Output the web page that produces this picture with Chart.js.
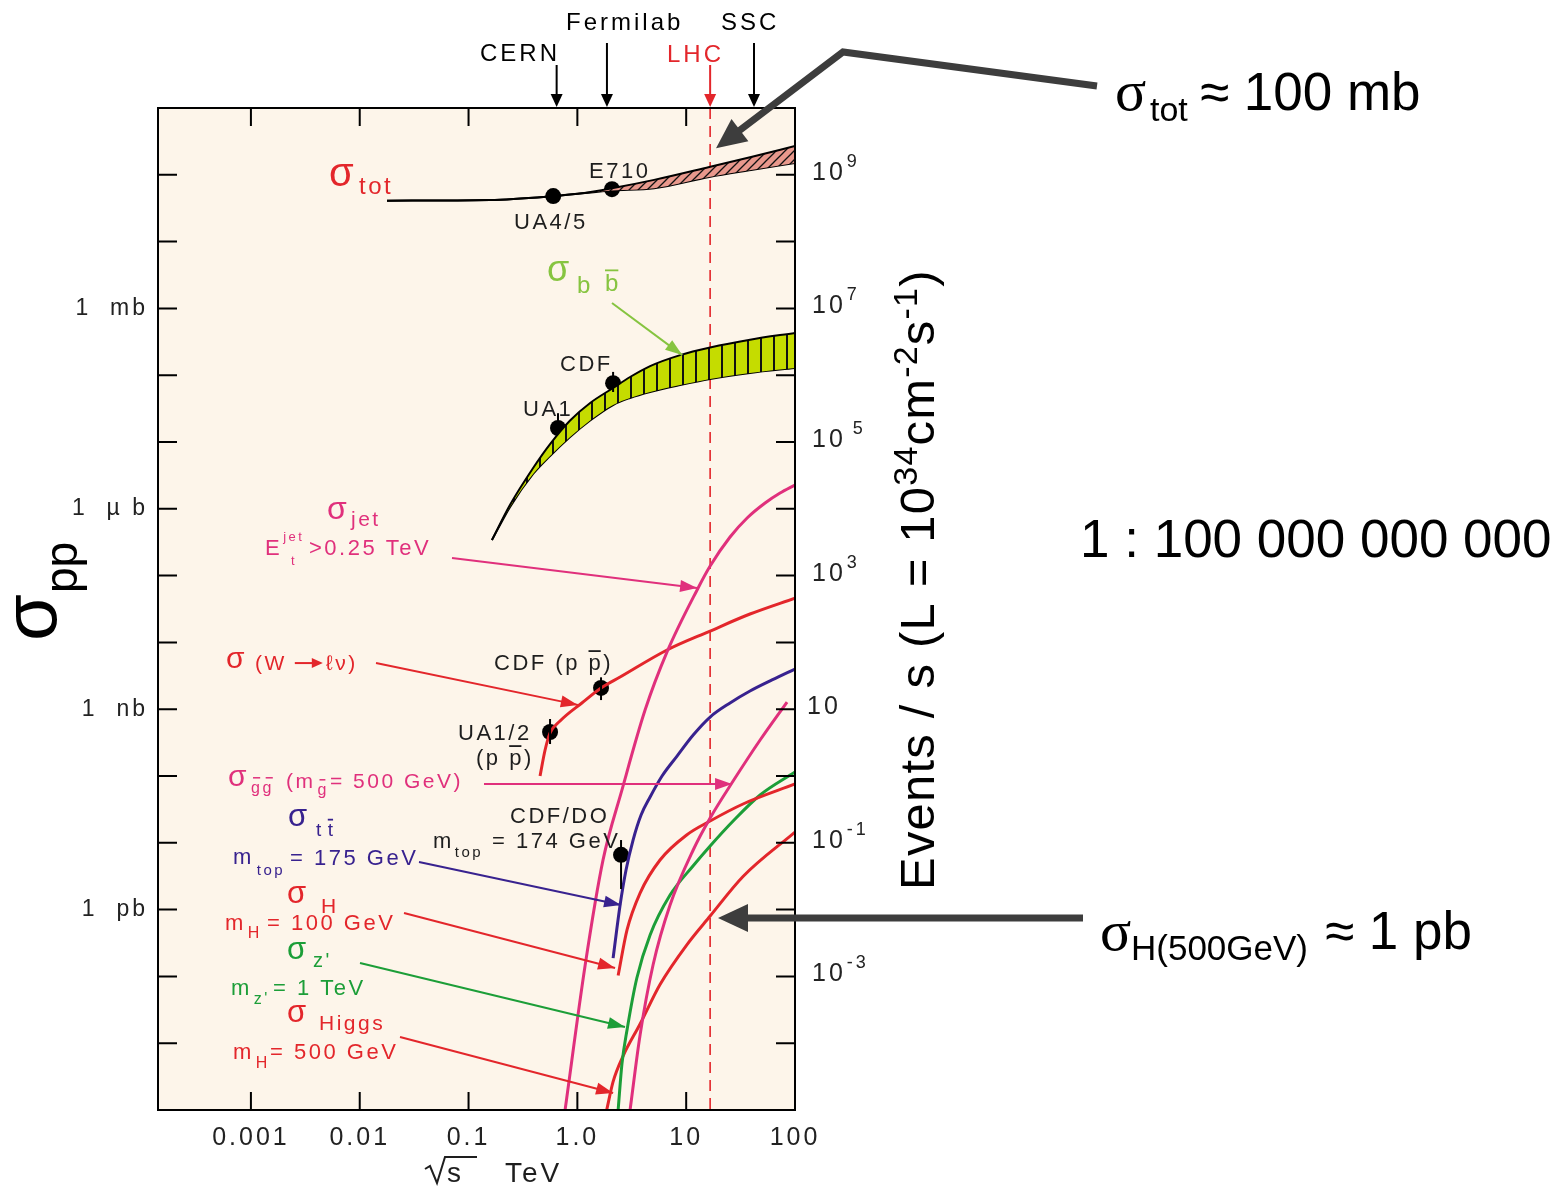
<!DOCTYPE html>
<html>
<head>
<meta charset="utf-8">
<title>Proton-proton cross sections</title>
<script src="https://cdn.jsdelivr.net/npm/chart.js@4.4.1/dist/chart.umd.min.js"></script>
<style>
  html, body { margin: 0; padding: 0; background: #fff; }
  canvas { display: block; }
</style>
</head>
<body>
<canvas id="xsec" width="1559" height="1186"></canvas>
<script>
// sqrt(s) in TeV, cross sections in pb
const totX = [0.0178, 0.157, 0.60, 1.01, 2.08, 5.07, 16.3, 39.5, 100];
const totHigh = [4.1e10, 4.2e10, 4.8e10, 5.2e10, 6.3e10, 8.4e10, 1.31e11, 1.85e11, 2.7e11];
const totLow = [4.1e10, 4.2e10, 4.8e10, 5.2e10, 5.8e10, 6.3e10, 9.3e10, 1.18e11, 1.5e11];

const bbX = [0.164, 0.240, 0.392, 0.561, 0.857, 1.31, 2.13, 3.05, 4.66, 8.8, 16.6, 38.6, 100];
const bbHigh = [3.4e5, 1.14e6, 4.08e6, 9.3e6, 2.1e7, 3.84e7, 6.43e7, 9.4e7, 1.37e8, 2.0e8, 2.6e8, 3.4e8, 4.3e8];
const bbLow = [3.4e5, 1.06e6, 3.32e6, 6.17e6, 1.19e7, 2.1e7, 3.58e7, 4.56e7, 5.61e7, 7.13e7, 8.8e7, 1.08e8, 1.28e8];

const jetX = [0.771, 1.18, 1.72, 2.57, 4.19, 6.67, 12.6, 16.6, 25.3, 36.3, 53.1, 72.9, 100];
const jetY = [1e-3, 0.148, 5.5, 62, 970, 7.2e3, 6.1e4, 1.39e5, 3.78e5, 7.28e5, 1.22e6, 1.72e6, 2.27e6];

const wX = [0.454, 0.505, 0.561, 0.693, 1.10, 1.65, 2.47, 6.67, 16.6, 38.6, 100];
const wY = [100, 245, 440, 666, 1.24e3, 2.08e3, 3.03e3, 7.7e3, 1.48e4, 2.66e4, 4.6e4];

const ttX = [2.13, 2.47, 2.80, 3.25, 3.85, 4.66, 6.0, 8.24, 11.6, 16.6, 25.3, 38.6, 61.5, 100];
const ttY = [0.188, 1.17, 3.92, 11.0, 26.1, 48.5, 100, 199, 411, 764, 1.24e3, 1.87e3, 2.74e3, 4.0e3];

const gluinoX = [3.05, 3.77, 4.96, 7.11, 11.6, 16.6, 27.0, 47.8, 84.5];
const gluinoY = [1e-3, 0.0133, 0.148, 1.17, 7.8, 23.5, 84, 346, 1.28e3];

const h100X = [2.37, 2.86, 3.77, 5.75, 10.1, 16.6, 33.3, 100];
const h100Y = [0.103, 0.496, 1.77, 5.53, 13.1, 21.2, 38.1, 75.9];

const zpX = [2.37, 2.57, 2.86, 3.52, 4.66, 7.11, 11.6, 16.6, 27.0, 47.8, 100];
const zpY = [1e-3, 0.00496, 0.0158, 0.0946, 0.417, 1.65, 4.53, 8.96, 21.2, 52, 115];

const h500X = [1.86, 2.13, 2.63, 3.77, 5.75, 10.1, 16.6, 33.3, 100];
const h500Y = [1e-3, 0.00266, 0.00643, 0.0194, 0.0757, 0.295, 0.80, 3.13, 14.5];

// measured points: UA4/5, E710, UA1, CDF (bb), CDF (W), UA1/2, CDF/D0 (top)
const markX = [0.60, 2.08, 0.664, 2.13, 1.65, 0.561, 2.52];
const markY = [4.8e10, 6.1e10, 1.62e7, 7.6e7, 2.08e3, 456, 6.6];
const markLow = [null, null, 1.36e7, 5.6e7, 1.37e3, 301, 2.03];
const markHigh = [null, null, 2.7e7, 1.12e8, 3.0e3, 713, 11.0];

const accNames = ['CERN', 'Fermilab', 'LHC', 'SSC'];
const accTeV = [0.645, 1.87, 16.6, 42];

const xTickVals = [0.001, 0.01, 0.1, 1, 10, 100];
const xTickText = ['0.001', '0.01', '0.1', '1.0', '10', '100'];
const yTickVals = [1, 1e3, 1e6, 1e9];
const yTickText = ['1  pb', '1  nb', '1  \u00b5 b', '1  mb'];
const rateTickVals = [1e9, 1e7, 1e5, 1e3, 10, 0.1, 1e-3];
const rateTickExp = ['9', '7', '5', '3', '', '-1', '-3'];

// where the label arrows land (TeV, pb)
const pointerTeV = [9.2, 12.6, 1.01, 26.4, 2.52, 2.22, 2.74, 2.13];
const pointerPb = [2.0e8, 6.5e4, 1.16e3, 76, 1.17, 0.134, 0.0175, 0.0018];
const bigTipTeV = [18.8, 19.6];
const bigTipPb = [2.5e11, 0.75];

const SANS = '"Liberation Sans", Arial, Helvetica, sans-serif';
const SERIF = '"Liberation Serif", "Times New Roman", serif';
const RED = '#e3262b', PINK = '#e0307c', BLUE = '#38228f', GREEN = '#1c9e38', LIME = '#86c440', INK = '#1e1e1e';

const canvas = document.getElementById('xsec');
const mainCtx = canvas.getContext('2d');

function makePattern(w, h, bg, draw) {
    const c = document.createElement('canvas');
    c.width = w; c.height = h;
    const g = c.getContext('2d');
    g.fillStyle = bg;
    g.fillRect(0, 0, w, h);
    draw(g);
    return mainCtx.createPattern(c, 'repeat');
}

const totHatch = makePattern(9, 9, '#e8988c', g => {
    g.strokeStyle = '#111'; g.lineWidth = 1.3;
    g.beginPath();
    g.moveTo(-1, 10); g.lineTo(10, -1);
    g.moveTo(-1, 1); g.lineTo(1, -1);
    g.moveTo(8, 10); g.lineTo(10, 8);
    g.stroke();
});
const bbHatch = makePattern(13, 13, '#c5dc00', g => {
    g.fillStyle = '#111';
    g.fillRect(6, 0, 2, 13);
});

const pts = (xs, ys) => xs.map((x, i) => ({ x, y: ys[i] }));
const curve = (data, color, width, extra = {}) => ({
    data, borderColor: color, borderWidth: width, pointRadius: 0,
    showLine: true, fill: false, cubicInterpolationMode: 'monotone', ...extra
});

function arrowHead(ctx, x0, y0, x1, y1, len, half) {
    const a = Math.atan2(y1 - y0, x1 - x0);
    ctx.beginPath();
    ctx.moveTo(x1, y1);
    ctx.lineTo(x1 - len * Math.cos(a) + half * Math.sin(a), y1 - len * Math.sin(a) - half * Math.cos(a));
    ctx.lineTo(x1 - len * Math.cos(a) - half * Math.sin(a), y1 - len * Math.sin(a) + half * Math.cos(a));
    ctx.closePath();
    ctx.fill();
}

function drawParts(ctx, x, y, color, parts, ls) {
    let cx = x;
    ctx.fillStyle = color;
    ctx.strokeStyle = color;
    ctx.textAlign = 'left';
    ctx.textBaseline = 'alphabetic';
    for (const [text, size, dy = 0, o = {}] of parts) {
        if (o.x !== undefined) cx = o.x;
        cx += o.pre || 0;
        if (o.arrow) {
            const yy = y + dy - size * 0.33;
            ctx.lineWidth = 2;
            ctx.beginPath(); ctx.moveTo(cx, yy); ctx.lineTo(cx + o.arrow - 8, yy); ctx.stroke();
            arrowHead(ctx, cx, yy, cx + o.arrow, yy, 11, 5);
            cx += o.arrow + 4;
            continue;
        }
        const sp = o.ls ?? ls;
        ctx.font = `${size}px ${o.serif ? SERIF : SANS}`;
        ctx.letterSpacing = `${sp}px`;
        ctx.fillText(text, cx, y + dy);
        const w = ctx.measureText(text).width;
        if (o.bar) {
            ctx.lineWidth = 1.8;
            ctx.beginPath();
            ctx.moveTo(cx, y + dy - size * 0.86);
            ctx.lineTo(cx + w - sp, y + dy - size * 0.86);
            ctx.stroke();
        }
        if (o.tilde) {
            const cw = (w - sp) / text.length;
            ctx.lineWidth = 1.5;
            for (let i = 0; i < text.length; i++) {
                ctx.beginPath();
                ctx.moveTo(cx + i * (cw + sp) + 2, y + dy - size * 0.95);
                ctx.lineTo(cx + i * (cw + sp) + cw - 1, y + dy - size * 0.95);
                ctx.stroke();
            }
        }
        cx += w;
    }
    ctx.letterSpacing = '0px';
}

// labels inside the frame: [left, baseline, colour, parts]
const notes = [
    [329, 186, RED, [['\u03c3', 40], ['tot', 24, 8, { x: 359 }]]],
    [589, 178, INK, [['E710', 22]]],
    [514, 229, INK, [['UA4/5', 22]]],
    [547, 281, LIME, [['\u03c3', 36], ['b', 24, 12, { x: 577 }], ['b', 24, 10, { x: 605, bar: 1 }]]],
    [560, 371, INK, [['CDF', 22]]],
    [523, 416, INK, [['UA1', 22]]],
    [327, 519, PINK, [['\u03c3', 32], ['jet', 21, 7, { x: 351 }]]],
    [265, 555, PINK, [['E', 22], ['jet', 13, -14, { pre: 1 }], ['t', 13, 10, { x: 291 }], ['>0.25 TeV', 22, 0, { x: 309 }]]],
    [226, 668, RED, [['\u03c3', 30], ['(W', 21, 2, { x: 255 }], ['', 21, 2, { pre: 8, arrow: 28 }], ['\u2113\u03bd)', 21, 2, { x: 326 }]]],
    [494, 670, INK, [['CDF (p ', 22], ['p', 22, 0, { bar: 1 }], [')', 22]]],
    [458, 740, INK, [['UA1/2', 22]]],
    [476, 765, INK, [['(p ', 22], ['p', 22, 0, { bar: 1 }], [')', 22]]],
    [228, 786, PINK, [['\u03c3', 30], ['gg', 16, 7, { pre: 2, tilde: 1 }], ['(m', 21, 2, { x: 286 }], ['g', 16, 9, { pre: 2, tilde: 1 }], ['= 500 GeV)', 21, 2, { x: 330 }]]],
    [510, 823, INK, [['CDF/DO', 22]]],
    [433, 848, INK, [['m', 22], ['top', 15, 9, { pre: 1 }], ['= 174 GeV', 22, 0, { x: 492 }]]],
    [288, 826, BLUE, [['\u03c3', 31], ['t', 19, 10, { x: 316 }], ['t', 19, 10, { pre: 4, bar: 1 }]]],
    [233, 864, BLUE, [['m', 22], ['top', 15, 11, { pre: 3 }], ['= 175 GeV', 22, 1, { x: 290 }]]],
    [287, 903, RED, [['\u03c3', 31], ['H', 21, 10, { x: 321 }]]],
    [225, 930, RED, [['m', 22], ['H', 16, 8, { pre: 2 }], ['= 100 GeV', 22, 0, { x: 267 }]]],
    [287, 959, GREEN, [['\u03c3', 31], ["z'", 20, 8, { x: 313 }]]],
    [231, 995, GREEN, [['m', 22], ["z'", 16, 9, { pre: 2 }], ['= 1 TeV', 22, 0, { x: 273 }]]],
    [287, 1022, RED, [['\u03c3', 31], ['Higgs', 21, 8, { x: 319 }]]],
    [233, 1059, RED, [['m', 22], ['H', 16, 9, { pre: 2 }], ['= 500 GeV', 22, 0, { x: 270 }]]]
];
const pointerTail = [[612, 303], [452, 558], [376, 663], [484, 784], [419, 862], [404, 913], [360, 963], [400, 1037]];
const pointerColor = [LIME, PINK, RED, PINK, BLUE, RED, GREEN, RED];
const accLabelPos = [[480, 61], [566, 30], [667, 62], [721, 30]];
const accArrowTop = [65, 43, 65, 43];

const frameAndNotes = {
    id: 'frameAndNotes',
    beforeDraw(chart) {
        const { ctx, chartArea: a } = chart;
        ctx.save();
        ctx.fillStyle = '#ffffff';
        ctx.fillRect(0, 0, chart.width, chart.height);
        ctx.fillStyle = '#fdf5ea';
        ctx.fillRect(a.left, a.top, a.right - a.left, a.bottom - a.top);
        ctx.restore();
        ctx.letterSpacing = '3px';
    },
    beforeDatasetsDraw(chart) {
        const { ctx, chartArea: a, scales: { x } } = chart;
        const lx = x.getPixelForValue(accTeV[2]);
        ctx.save();
        ctx.strokeStyle = RED;
        ctx.lineWidth = 1.6;
        ctx.setLineDash([11, 7]);
        ctx.beginPath();
        ctx.moveTo(lx, a.top);
        ctx.lineTo(lx, a.bottom + 6);
        ctx.stroke();
        ctx.restore();
    },
    afterDatasetsDraw(chart) {
        const { ctx, scales: { x, y } } = chart;
        ctx.save();
        ctx.strokeStyle = '#000';
        ctx.lineWidth = 2;
        markX.forEach((v, i) => {
            if (markLow[i] === null) return;
            const px = x.getPixelForValue(v);
            ctx.beginPath();
            ctx.moveTo(px, y.getPixelForValue(markLow[i]));
            ctx.lineTo(px, y.getPixelForValue(markHigh[i]));
            ctx.stroke();
        });
        ctx.restore();
    },
    afterDraw(chart) {
        const { ctx, chartArea: a, scales: { x, y, rate } } = chart;
        ctx.save();

        // frame and inward ticks
        ctx.strokeStyle = '#000';
        ctx.lineWidth = 2;
        ctx.strokeRect(a.left, a.top, a.right - a.left, a.bottom - a.top);
        ctx.beginPath();
        for (let k = -2; k <= 11; k++) {
            const py = y.getPixelForValue(Math.pow(10, k));
            ctx.moveTo(a.left, py); ctx.lineTo(a.left + 19, py);
            ctx.moveTo(a.right, py); ctx.lineTo(a.right - 19, py);
        }
        xTickVals.slice(0, -1).forEach(v => {
            const px = x.getPixelForValue(v);
            ctx.moveTo(px, a.top); ctx.lineTo(px, a.top + 18);
            ctx.moveTo(px, a.bottom); ctx.lineTo(px, a.bottom - 18);
        });
        ctx.stroke();

        // right-hand rate labels
        rateTickVals.forEach((v, i) => {
            const py = rate.getPixelForValue(v);
            const e = rateTickExp[i];
            drawParts(ctx, e ? 812 : 807, py + 5, '#222', [['10', 25], [e, 18, -13, { pre: e === '5' ? 7 : 1 }]], 3);
        });

        // accelerator markers above the frame
        accTeV.forEach((v, i) => {
            const px = x.getPixelForValue(v);
            const col = i === 2 ? RED : '#000';
            ctx.strokeStyle = col; ctx.fillStyle = col; ctx.lineWidth = 2;
            ctx.beginPath();
            ctx.moveTo(px, accArrowTop[i]); ctx.lineTo(px, a.top - 8);
            ctx.stroke();
            arrowHead(ctx, px, accArrowTop[i], px, a.top - 1, 13, 6);
            drawParts(ctx, accLabelPos[i][0], accLabelPos[i][1], col, [[accNames[i], 24]], 3);
        });

        // labels and their pointers
        notes.forEach(([nx, ny, col, parts]) => drawParts(ctx, nx, ny, col, parts, 2.5));
        pointerTail.forEach(([tx, ty], i) => {
            const px = x.getPixelForValue(pointerTeV[i]);
            const py = y.getPixelForValue(pointerPb[i]);
            ctx.strokeStyle = pointerColor[i]; ctx.fillStyle = pointerColor[i];
            ctx.lineWidth = 2;
            ctx.beginPath(); ctx.moveTo(tx, ty); ctx.lineTo(px, py); ctx.stroke();
            arrowHead(ctx, tx, ty, px, py, 17, 6);
        });

        // big call-out arrows
        ctx.strokeStyle = '#3d3d3d'; ctx.fillStyle = '#3d3d3d';
        ctx.lineWidth = 7; ctx.lineJoin = 'miter';
        const t1x = x.getPixelForValue(bigTipTeV[0]), t1y = y.getPixelForValue(bigTipPb[0]);
        ctx.beginPath();
        ctx.moveTo(1097, 86); ctx.lineTo(843, 52);
        const a1 = Math.atan2(t1y - 52, t1x - 843);
        ctx.lineTo(t1x - 24 * Math.cos(a1), t1y - 24 * Math.sin(a1));
        ctx.stroke();
        arrowHead(ctx, 843, 52, t1x, t1y, 30, 14);
        const t2x = x.getPixelForValue(bigTipTeV[1]), t2y = y.getPixelForValue(bigTipPb[1]);
        ctx.beginPath();
        ctx.moveTo(1083, t2y); ctx.lineTo(t2x + 24, t2y);
        ctx.stroke();
        arrowHead(ctx, 1083, t2y, t2x, t2y, 30, 14);

        // right-hand statements
        drawParts(ctx, 1115, 110, '#000', [['\u03c3', 58, 0, { serif: 1 }], ['tot', 34, 11, { x: 1150 }], ['\u2248 100 mb', 53, 0, { x: 1200 }]], 0);
        drawParts(ctx, 1080, 557, '#000', [['1 : 100 000 000 000', 53]], 0);
        drawParts(ctx, 1100, 949, '#000', [['\u03c3', 58, 1, { serif: 1 }], ['H(500GeV)', 35, 11, { x: 1131 }], ['\u2248 1 pb', 53, 0, { x: 1325 }]], 0);

        // x-axis title: sqrt(s) TeV
        ctx.strokeStyle = INK; ctx.lineWidth = 2;
        ctx.beginPath();
        ctx.moveTo(425, 1169); ctx.lineTo(430, 1166); ctx.lineTo(437, 1183); ctx.lineTo(445, 1157); ctx.lineTo(477, 1157);
        ctx.stroke();
        drawParts(ctx, 447, 1182, INK, [['s', 28]], 2);
        drawParts(ctx, 505, 1182, INK, [['TeV', 28]], 3);

        // left title
        ctx.save();
        ctx.translate(56, 641);
        ctx.rotate(-Math.PI / 2);
        drawParts(ctx, 0, 0, '#000', [['\u03c3', 76], ['pp', 46, 21, { pre: 1 }]], 0);
        ctx.restore();

        // right title
        ctx.save();
        ctx.translate(934, 890);
        ctx.rotate(-Math.PI / 2);
        drawParts(ctx, 0, 0, '#000', [['Events / s (L = 10', 49], ['34', 34, -17], ['cm', 49], ['-2', 34, -17], ['s', 49], ['-1', 34, -17], [')', 49]], 1.2);
        ctx.restore();

        ctx.restore();
    }
};

new Chart(canvas, {
    type: 'scatter',
    data: {
        datasets: [
            curve(pts(totX, totHigh), '#000', 2, { fill: '+1', backgroundColor: totHatch }),
            curve(pts(totX, totLow), '#000', 2),
            curve(pts(bbX, bbHigh), '#000', 2, { fill: '+1', backgroundColor: bbHatch }),
            curve(pts(bbX, bbLow), '#000', 2),
            curve(pts(jetX, jetY), PINK, 3),
            curve(pts(wX, wY), RED, 3),
            curve(pts(ttX, ttY), BLUE, 3),
            curve(pts(gluinoX, gluinoY), PINK, 3),
            curve(pts(h100X, h100Y), RED, 3),
            curve(pts(zpX, zpY), GREEN, 3),
            curve(pts(h500X, h500Y), RED, 3),
            {
                data: pts(markX, markY), showLine: false, pointRadius: 8,
                pointBackgroundColor: '#000', pointBorderWidth: 0
            }
        ]
    },
    options: {
        responsive: false,
        animation: false,
        layout: { padding: { top: 108, left: 0, right: 0, bottom: 0 } },
        plugins: { legend: { display: false }, tooltip: { enabled: false } },
        scales: {
            x: {
                type: 'logarithmic', position: 'bottom', min: 1.4e-4, max: 100,
                afterFit: s => { s.height = 76; },
                afterBuildTicks: s => { s.ticks = xTickVals.map(v => ({ value: v })); },
                grid: { display: false, drawTicks: false },
                border: { display: false },
                ticks: {
                    autoSkip: false, maxRotation: 0, padding: 13, color: '#222',
                    font: { size: 25, family: SANS },
                    callback: (v, i) => xTickText[i]
                }
            },
            y: {
                type: 'logarithmic', position: 'left', min: 1e-3, max: 1e12,
                afterFit: s => { s.width = 158; },
                afterBuildTicks: s => { s.ticks = yTickVals.map(v => ({ value: v })); },
                grid: { display: false, drawTicks: false },
                border: { display: false },
                ticks: {
                    autoSkip: false, padding: 10, color: '#222',
                    font: { size: 23, family: SANS },
                    callback: (v, i) => yTickText[i]
                }
            },
            rate: {
                type: 'logarithmic', position: 'right', min: 1e-5, max: 1e10,
                afterFit: s => { s.width = 764; },
                grid: { display: false, drawTicks: false },
                border: { display: false },
                ticks: { display: false }
            }
        }
    },
    plugins: [frameAndNotes]
});
</script>
</body>
</html>
